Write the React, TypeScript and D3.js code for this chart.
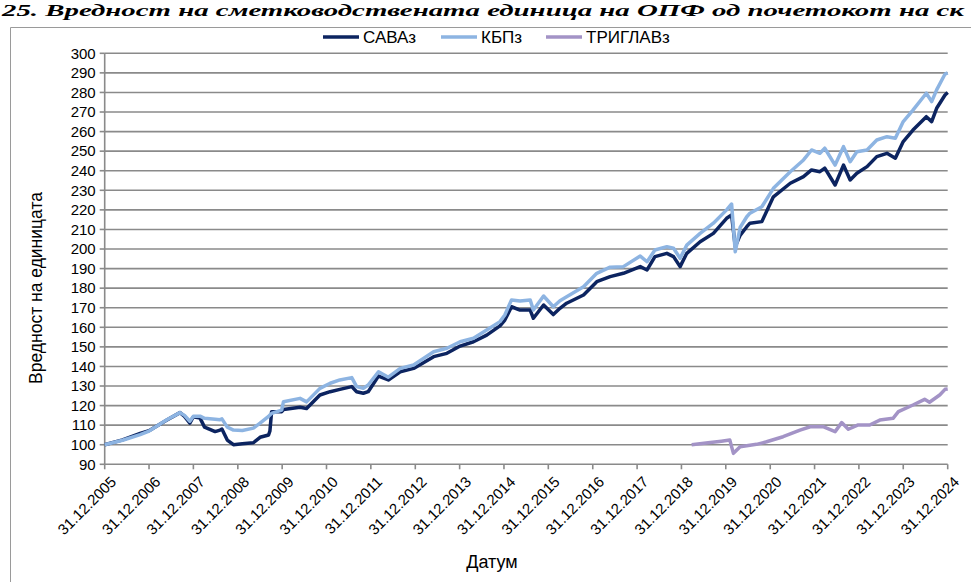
import React from "react";
import * as d3 from "d3";

const W = 971;
const H = 582;

const tickYears = [2005, 2006, 2007, 2008, 2009, 2010, 2011, 2012, 2013, 2014, 2015, 2016, 2017, 2018, 2019, 2020, 2021, 2022, 2023, 2024];
const yTicks = [90, 100, 110, 120, 130, 140, 150, 160, 170, 180, 190, 200, 210, 220, 230, 240, 250, 260, 270, 280, 290, 300];

const seriesNames = ["САВАз", "КБПз", "ТРИГЛАВз"];
const seriesColors = ["#0c2460", "#8db4e2", "#a393c6"];

// Shared dates for САВАз and КБПз
const mainDates = [
  "2005-12-31", "2006-05-27", "2006-10-19", "2006-12-31", "2007-05-27", "2007-09-12", "2007-10-19", "2007-12-02",
  "2007-12-31", "2008-02-24", "2008-04-01", "2008-06-27", "2008-08-07", "2008-08-22", "2008-10-05", "2008-11-25",
  "2009-02-06", "2009-05-08", "2009-07-02", "2009-09-10", "2009-09-21", "2009-10-05", "2009-12-27", "2010-01-11",
  "2010-05-27", "2010-07-20", "2010-11-07", "2011-01-30", "2011-04-20", "2011-07-27", "2011-09-05", "2011-10-30",
  "2011-12-09", "2012-03-03", "2012-05-23", "2012-08-29", "2012-12-17", "2013-05-31", "2013-09-17", "2014-01-04",
  "2014-04-24", "2014-08-11", "2014-11-28", "2015-01-07", "2015-03-03", "2015-05-12", "2015-08-04", "2015-08-30",
  "2015-11-22", "2016-02-10", "2016-04-05", "2016-05-30", "2016-10-16", "2017-02-02", "2017-05-23", "2017-09-09",
  "2018-01-26", "2018-03-23", "2018-05-27", "2018-09-02", "2018-10-27", "2018-12-20", "2019-02-13", "2019-06-03",
  "2019-09-20", "2020-01-07", "2020-02-17", "2020-03-18", "2020-04-27", "2020-06-21", "2020-07-17", "2020-10-23",
  "2021-01-26", "2021-06-14", "2021-10-01", "2021-12-06", "2022-02-13", "2022-03-25", "2022-06-18", "2022-08-26",
  "2022-10-20", "2022-12-14", "2023-03-08", "2023-05-27", "2023-08-19", "2023-10-27", "2023-12-31", "2024-03-20",
  "2024-07-08", "2024-08-21", "2024-10-01", "2024-12-09", "2024-12-31"
];

const savaValues = [
  100, 102.5, 105.8, 107.2, 112.6, 116.4, 114.5, 111,
  114.3, 113.6, 109, 106.7, 107.5, 108, 102.4, 100,
  100.5, 101, 103.8, 105, 107, 116.9, 116.9, 118,
  119.1, 118.5, 125.4, 127.1, 128.3, 129.7, 127.1, 126.3,
  127.1, 135.1, 133.1, 137.3, 139, 145, 146.7, 150.4,
  152.6, 156, 160.7, 163.7, 170.5, 168.8, 168.8, 164.6,
  171.4, 166.5, 169.7, 172.3, 176.5, 183.3, 185.9, 187.6,
  191, 189.3, 196.1, 197.8, 196.1, 191, 197.8, 203.7,
  208, 215.7, 217.4, 201.2, 207, 211.4, 213.2, 214,
  226.7, 233.6, 237, 240.4, 239.5, 241.3, 232.7, 242.9,
  235.3, 238.7, 242.1, 247.2, 248.9, 246.4, 254.9, 260.8,
  267.6, 265.1, 271.9, 278.7, 280
];

const kbpValues = [
  100, 102.3, 105.2, 107, 112.8, 116.4, 115, 112,
  114.5, 114.6, 113.5, 113, 112.8, 113.2, 109, 107.5,
  107.3, 108.5, 111, 114.5, 115.2, 116, 117.7, 122,
  123.7, 121.9, 128.8, 131.4, 133.1, 134.3, 129.7, 128.8,
  130.5, 137.3, 134.5, 139, 140.7, 147.5, 149.3, 152.6,
  154.4, 158.6, 162.9, 166.3, 174, 173.4, 174, 168.8,
  176, 170.5, 173.6, 175.6, 180.7, 187.6, 190.7, 191,
  196.4, 193.5, 199.5, 201.2, 200.4, 195.3, 202, 208,
  213.2, 220, 223, 198.6, 211, 216.5, 218.3, 221.6,
  231, 239.5, 245.5, 250.6, 248.9, 251.5, 242.9, 252.3,
  244.6, 249.7, 250.6, 255.7, 257.4, 256.6, 265.1, 271,
  279.6, 275.3, 281.3, 289.4, 290
];

const triglavDates = [
  "2019-03-25", "2019-08-08", "2019-11-25", "2020-02-02", "2020-03-03", "2020-04-27", "2020-09-09", "2020-12-01",
  "2021-04-16", "2021-09-02", "2021-11-25", "2022-03-11", "2022-06-18", "2022-08-11", "2022-10-05", "2022-12-25",
  "2023-03-30", "2023-06-21", "2023-10-08", "2023-11-21", "2024-03-20", "2024-06-24", "2024-08-03", "2024-10-26",
  "2024-12-09", "2024-12-31"
];
const triglavValues = [
  100, 101, 101.8, 102.4, 95.6, 99, 100.2, 101.5,
  104.1, 107.5, 109.2, 109.2, 106.7, 111.3, 107.9, 110.1,
  110.1, 112.6, 113.5, 116.9, 120.3, 123.2, 121.7, 125.4,
  128.3, 128.5
];

const titleText = "25. Вредност на сметководствената единица на ОПФ од почетокот на ск";
const yTitle = "Вредност на единицата";
const xTitle = "Датум";

const parse = d3.timeParse("%Y-%m-%d");
const fmt = d3.timeFormat("%d.%m.%Y");

export default function App() {
  const left = 104.7, right = 947.7, top = 53.3, bottom = 464.3;
  const x = d3.scaleTime().domain([parse("2005-12-31")!, parse("2024-12-31")!]).range([left, right]);
  const y = d3.scaleLinear().domain([90, 300]).range([bottom, top]);

  const line = d3.line<[Date, number]>().x(d => x(d[0])).y(d => y(d[1]));
  const mainD = mainDates.map(s => parse(s)!);
  const series = [
    mainD.map((d, i) => [d, savaValues[i]] as [Date, number]),
    mainD.map((d, i) => [d, kbpValues[i]] as [Date, number]),
    triglavDates.map((s, i) => [parse(s)!, triglavValues[i]] as [Date, number]),
  ];
  const tickDates = tickYears.map(yr => new Date(yr, 11, 31));
  const font = "'Liberation Sans', Arial, sans-serif";
  const gridColor = "#8a8a8a";

  const legendX = [323, 441, 546];

  return (
    <svg width={W} height={H} style={{ position: "absolute", left: 0, top: 0, background: "#fff" }}>
      <rect x={0} y={0} width={W} height={H} fill="#fff" />
      <text x={2} y={16} textLength={962} lengthAdjust="spacingAndGlyphs" fontFamily="'Liberation Serif', 'DejaVu Serif', serif" fontWeight="bold" fontStyle="italic" fontSize={17} fill="#000">{titleText}</text>
      <path d={`M10.5,${H} V27.5 H${W}`} fill="none" stroke="#9a9a9a" strokeWidth={1} />

      {yTicks.map(v => (
        <g key={v}>
          <line x1={left} x2={right} y1={y(v)} y2={y(v)} stroke={gridColor} strokeWidth={1.6} />
          <line x1={left - 5} x2={left} y1={y(v)} y2={y(v)} stroke={gridColor} strokeWidth={1.6} />
          <text x={left - 9} y={y(v)} dy="0.35em" textAnchor="end" fontFamily={font} fontSize={15} fill="#000">{v}</text>
        </g>
      ))}
      <line x1={left} x2={left} y1={top} y2={bottom} stroke={gridColor} strokeWidth={1.6} />
      {tickDates.map((d, i) => (
        <g key={i}>
          <line x1={x(d)} x2={x(d)} y1={bottom} y2={bottom + 5} stroke={gridColor} strokeWidth={1.6} />
          <text transform={`translate(${x(d) + 5},${bottom + 11}) rotate(-45)`} dy="0.7em" textAnchor="end" fontFamily={font} fontSize={15} fill="#000">{fmt(d)}</text>
        </g>
      ))}

      {series.map((s, i) => (
        <path key={i} d={line(s) || ""} fill="none" stroke={seriesColors[i]} strokeWidth={3.5} strokeLinejoin="round" />
      ))}

      {seriesNames.map((n, i) => (
        <g key={n}>
          <line x1={legendX[i]} x2={legendX[i] + 36} y1={37} y2={37} stroke={seriesColors[i]} strokeWidth={3.5} />
          <text x={legendX[i] + 40} y={37} dy="0.35em" fontFamily={font} fontSize={17} fill="#000">{n}</text>
        </g>
      ))}

      <text transform={`translate(42,288) rotate(-90)`} textAnchor="middle" fontFamily={font} fontSize={17.5} fill="#000">{yTitle}</text>
      <text x={492} y={568} textAnchor="middle" fontFamily={font} fontSize={18} fill="#000">{xTitle}</text>
    </svg>
  );
}
